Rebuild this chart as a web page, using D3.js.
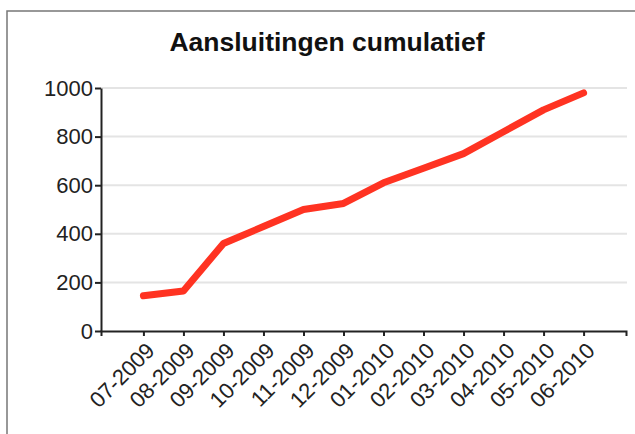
<!DOCTYPE html>
<html>
<head>
<meta charset="utf-8">
<style>
  body { margin: 0; background: #fff; }
  svg text { font-family: "Liberation Sans", Arial, sans-serif; }
  .grid line { stroke: #e4e4e4; stroke-width: 2; }
  .axis path, .axis line { stroke: #222; stroke-width: 2; }
  .axis text { fill: #222; font-size: 22px; }
  .line { fill: none; stroke: #ff3322; stroke-width: 7; stroke-linecap: round; stroke-linejoin: round; }
</style>
</head>
<body>
<svg width="635" height="434"></svg>
<script src="https://d3js.org/d3.v7.min.js"></script>
<script>
var months = ["07-2009", "08-2009", "09-2009", "10-2009", "11-2009", "12-2009",
              "01-2010", "02-2010", "03-2010", "04-2010", "05-2010", "06-2010"];
var cumulative = [145, 165, 360, 430, 500, 525, 610, 670, 730, 820, 910, 980];
var yTicks = [0, 200, 400, 600, 800, 1000];
var title = "Aansluitingen cumulatief";

var data = months.map(function(m, i) { return {month: m, value: cumulative[i]}; });

// plot area in pixels
var plotLeft = 101, plotRight = 626, plotTop = 88, plotBottom = 331;

var svg = d3.select("svg");

// frame (only top and left edges are visible)
svg.append("rect")
    .attr("x", 7).attr("y", 11)
    .attr("width", 700).attr("height", 500)
    .attr("fill", "none")
    .attr("stroke", "#777")
    .attr("stroke-width", 1.5);

svg.append("text")
    .attr("x", 327).attr("y", 51)
    .attr("text-anchor", "middle")
    .style("font-size", "26.5px")
    .style("font-weight", "bold")
    .attr("fill", "#111")
    .text(title);

var x = d3.scalePoint().domain(months).range([plotLeft, plotRight]).padding(1.06);
var y = d3.scaleLinear().domain([0, 1000]).range([plotBottom, plotTop]);

// gridlines
svg.append("g").attr("class", "grid")
  .selectAll("line")
  .data(yTicks.filter(function(t) { return t > 0; }))
  .enter().append("line")
    .attr("x1", plotLeft).attr("x2", plotRight + 1)
    .attr("y1", function(d) { return y(d); })
    .attr("y2", function(d) { return y(d); });

svg.append("g")
    .attr("class", "axis")
    .attr("transform", "translate(" + plotLeft + ",0)")
    .call(d3.axisLeft(y).tickValues(yTicks).tickFormat(d3.format("d"))
      .tickSize(6).tickSizeOuter(0).tickPadding(2));

var xAxis = svg.append("g")
    .attr("class", "axis")
    .attr("transform", "translate(0," + plotBottom + ")")
    .call(d3.axisBottom(x).tickSize(5).tickSizeOuter(5));

xAxis.selectAll("text")
    .attr("text-anchor", "end")
    .attr("dy", null)
    .attr("y", 0)
    .attr("transform", "translate(12,21) rotate(-45)");

var valueline = d3.line()
    .x(function(d) { return x(d.month); })
    .y(function(d) { return y(d.value); });

svg.append("path")
    .attr("class", "line")
    .attr("d", valueline(data));
</script>
</body>
</html>
